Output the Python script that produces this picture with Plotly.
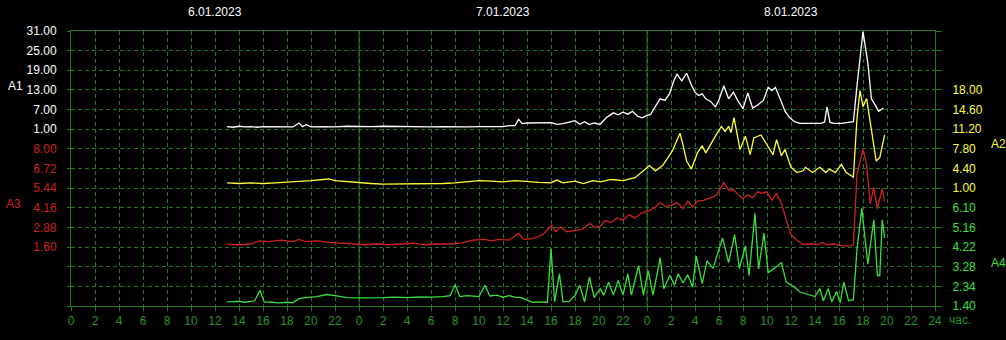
import plotly.graph_objects as go

# ---------------- data (hours from 6.01.2023 00:00) ----------------
a1_h = [13.0, 13.5, 14.0, 14.5, 15.0, 15.5, 16.0, 17.0, 18.0, 18.5, 19.0, 19.3, 19.6, 20.0, 21.0, 22.0,
        23.0, 24.0, 25.0, 26.0, 27.0, 28.0, 29.0, 30.0, 31.0, 32.0, 33.0, 34.0, 35.0, 36.0, 36.5, 37.0,
        37.3, 37.6, 38.0, 39.0, 40.0, 40.5, 41.0, 42.0, 42.4, 42.8, 43.2, 43.6, 44.1, 44.6, 45.2, 45.6,
        46.0, 46.4, 46.8, 47.2, 47.6, 48.0, 48.3, 48.7, 49.1, 49.5, 49.9, 50.2, 50.5, 50.9, 51.3, 51.7,
        52.0, 52.3, 52.6, 52.9, 53.3, 53.7, 54.0, 54.4, 54.8, 55.2, 55.6, 56.0, 56.4, 56.8, 57.2, 57.7,
        58.1, 58.4, 58.7, 59.2, 59.5, 59.9, 60.3, 60.75, 61.5, 62.0, 62.5, 62.8, 63.0, 63.25, 63.6, 64.2,
        64.8, 65.2, 65.5, 66.0, 66.4, 66.7, 67.0, 67.3, 67.7]
a1_v = [1.8, 1.6, 1.9, 1.7, 1.8, 1.6, 1.8, 1.7, 1.8, 1.7, 2.9, 1.8, 2.4, 1.7, 1.8, 1.7,
        1.9, 1.8, 1.8, 1.9, 1.8, 1.9, 1.7, 1.7, 1.8, 1.7, 1.7, 1.8, 1.9, 1.8, 2.1, 2.1,
        4.0, 2.7, 2.9, 2.9, 3.0, 2.5, 2.7, 3.6, 2.5, 3.3, 2.4, 2.9, 2.5, 4.5, 6.0, 5.4,
        6.2, 5.6, 6.5, 5.0, 4.5, 5.2, 5.5, 8.0, 10.3, 9.8, 12.0, 15.5, 17.8, 15.8, 18.1, 14.5,
        12.3, 11.3, 11.8, 10.3, 9.5, 7.8, 10.0, 14.3, 10.3, 12.3, 9.5, 7.3, 12.1, 7.5, 8.3, 9.8,
        13.8, 12.8, 13.8, 9.3, 6.5, 4.5, 3.3, 2.8, 2.8, 2.9, 2.8, 3.2, 7.8, 3.1, 2.8, 2.8,
        3.0, 3.3, 14.3, 30.8, 21.3, 10.3, 8.5, 6.5, 7.5]

a2_h = [13.0, 14.0, 15.0, 16.0, 17.0, 18.0, 19.0, 20.0, 21.0, 21.5, 22.0, 23.0, 24.0, 25.0, 26.0, 27.0,
        28.0, 29.0, 30.0, 31.0, 32.0, 33.0, 34.0, 35.0, 36.0, 37.0, 38.0, 39.0, 40.0, 40.5, 41.0, 42.0,
        42.7, 43.5, 44.1, 45.0, 46.0, 47.0, 47.7, 48.2, 48.7, 49.3, 50.1, 50.75, 51.0, 51.3, 51.7, 52.2,
        52.6, 52.9, 53.7, 54.2, 54.5, 54.8, 55.0, 55.25, 55.75, 56.2, 56.6, 56.9, 57.5, 58.0, 58.5, 58.8,
        59.2, 59.5, 60.0, 60.5, 61.0, 61.2, 61.8, 62.4, 62.9, 63.2, 63.7, 64.2, 64.6, 65.2, 65.5, 65.75,
        66.0, 66.3, 66.7, 67.1, 67.4, 67.8]
a2_v = [1.9, 1.8, 1.9, 1.8, 1.9, 2.0, 2.2, 2.3, 2.5, 2.6, 2.3, 2.1, 1.9, 1.8, 1.7, 1.7,
        1.8, 1.7, 1.7, 1.8, 1.9, 2.1, 2.3, 2.2, 2.1, 2.3, 2.1, 2.0, 1.9, 2.4, 1.9, 2.2,
        1.8, 2.3, 2.1, 2.5, 2.3, 2.8, 4.0, 4.9, 4.0, 4.9, 7.4, 10.5, 8.5, 5.7, 4.3, 7.1,
        8.3, 7.1, 10.0, 11.7, 10.8, 11.7, 10.6, 13.2, 7.7, 10.0, 6.8, 9.7, 10.2, 8.5, 6.8, 9.4,
        6.6, 7.7, 4.6, 3.7, 4.0, 4.6, 3.7, 4.6, 3.7, 4.3, 3.7, 5.1, 3.7, 2.9, 13.1, 17.9,
        15.1, 16.5, 10.8, 5.7, 6.3, 10.2]

a3_h = [13.0, 14.0, 15.0, 15.7, 16.5, 17.5, 18.5, 19.0, 19.5, 20.5, 21.5, 22.5, 23.5, 24.5, 25.5, 26.5,
        27.5, 28.5, 29.5, 30.5, 31.5, 32.5, 33.5, 34.5, 35.0, 35.7, 36.5, 37.3, 37.7, 38.5, 39.3, 40.05,
        40.4, 40.8, 41.3, 42.0, 42.6, 43.25, 43.6, 44.1, 44.5, 45.0, 45.5, 46.0, 46.5, 47.0, 47.5, 48.25,
        48.7, 49.1, 49.5, 50.0, 50.5, 51.0, 51.4, 51.8, 52.2, 52.7, 53.3, 53.8, 54.4, 54.8, 55.2, 55.6,
        56.0, 56.4, 56.8, 57.2, 57.6, 58.0, 58.4, 58.8, 59.2, 59.6, 60.0, 60.5, 61.0, 61.6, 62.2, 62.6,
        63.0, 63.6, 64.2, 64.8, 65.2, 65.5, 66.0, 66.3, 66.6, 66.9, 67.2, 67.6, 67.8]
a3_v = [1.77, 1.75, 1.8, 2.0, 1.95, 2.05, 1.95, 2.1, 1.95, 2.0, 1.9, 1.85, 1.8, 1.75, 1.8, 1.75,
        1.8, 1.85, 1.75, 1.8, 1.8, 1.85, 2.05, 2.1, 2.0, 2.1, 2.05, 2.5, 2.1, 2.15, 2.4, 3.0,
        2.6, 2.9, 2.6, 2.7, 2.75, 3.15, 2.9, 2.94, 3.33, 3.2, 3.5, 3.35, 3.7, 3.5, 3.8, 4.0,
        4.2, 4.5, 4.25, 4.3, 4.5, 4.1, 4.6, 4.2, 4.6, 4.65, 4.8, 5.0, 5.8, 5.3, 5.35, 5.0,
        4.75, 5.0, 4.8, 5.2, 5.1, 5.2, 4.65, 5.1, 4.43, 3.4, 2.41, 2.05, 1.77, 1.8, 1.75, 1.9,
        1.75, 1.8, 1.7, 1.66, 1.75, 6.36, 7.96, 7.0, 4.43, 5.5, 4.1, 5.4, 4.54]

a4_h = [13.0, 14.0, 14.5, 15.3, 15.75, 16.1, 16.7, 17.3, 18.0, 18.5, 19.0, 19.5, 20.5, 21.3, 22.0, 23.0,
        24.0, 25.0, 26.0, 27.0, 28.0, 29.0, 30.0, 31.0, 31.6, 32.0, 32.4, 33.0, 34.0, 34.5, 34.9, 35.5,
        36.0, 36.5, 37.0, 37.5, 38.0, 38.5, 39.0, 39.7, 40.0, 40.3, 40.7, 41.0, 41.5, 42.0, 42.4, 42.8,
        43.2, 43.6, 44.1, 44.4, 44.8, 45.2, 45.6, 46.0, 46.4, 46.7, 47.3, 47.7, 48.1, 48.5, 49.1, 49.4,
        49.9, 50.3, 50.6, 51.0, 51.4, 51.8, 52.1, 52.6, 53.0, 53.5, 54.3, 54.8, 55.3, 55.7, 56.2, 56.5,
        57.0, 57.3, 57.75, 58.1, 58.6, 59.2, 59.6, 60.3, 60.75, 61.5, 62.0, 62.4, 62.7, 63.1, 63.4, 63.8,
        64.1, 64.4, 64.8, 65.2, 65.5, 65.9, 66.4, 66.9, 67.2, 67.4, 67.6, 67.8]
a4_v = [1.6, 1.62, 1.58, 1.65, 2.15, 1.6, 1.58, 1.55, 1.58, 1.55, 1.75, 1.8, 1.85, 1.95, 1.9, 1.8,
        1.79, 1.78, 1.8, 1.82, 1.8, 1.83, 1.82, 1.85, 1.9, 2.42, 1.85, 1.9, 1.85, 2.39, 1.88, 1.92,
        1.82, 1.9, 1.82, 1.8, 1.7, 1.58, 1.6, 1.58, 4.14, 1.6, 2.94, 1.6, 1.62, 1.9, 2.39, 1.6,
        2.78, 1.8, 2.23, 1.92, 2.54, 1.92, 2.62, 1.92, 2.94, 1.92, 3.33, 1.92, 3.09, 1.92, 3.72, 2.23,
        2.86, 2.4, 2.94, 2.5, 2.9, 2.3, 3.8, 2.47, 3.56, 3.2, 4.66, 3.48, 4.82, 3.2, 4.27, 2.86,
        5.83, 3.17, 4.89, 3.0, 3.2, 3.48, 2.54, 2.3, 2.07, 1.92, 1.85, 2.23, 1.65, 2.23, 1.6, 2.1,
        1.55, 2.54, 1.65, 1.7, 4.11, 6.07, 3.41, 5.52, 2.86, 2.86, 5.52, 4.66]

# axis tick labels
a1_ticks = [31.00, 25.00, 19.00, 13.00, 7.00, 1.00]
a2_ticks = [18.00, 14.60, 11.20, 7.80, 4.40, 1.00]
a3_ticks = [8.00, 6.72, 5.44, 4.16, 2.88, 1.60]
a4_ticks = [6.10, 5.16, 4.22, 3.28, 2.34, 1.40]
dates = ["6.01.2023", "7.01.2023", "8.01.2023"]
date_pos = [12, 36, 60]
day_bounds = [24, 48]
hour_ticks = list(range(0, 73, 2))

# ---------------- styling ----------------
GRID = "rgb(38,118,38)"
XLAB = "rgb(40,150,40)"
C1, C2, C3, C4 = "#ffffff", "#ffff3c", "#d02020", "#3ce03c"
FONT = "Liberation Sans, Arial, sans-serif"
ROWS = 14  # horizontal grid intervals


def axis_range(ticks, top_index):
    step = ticks[0] - ticks[1]
    top = ticks[0] + top_index * step
    return step, top, top - ROWS * step


s1, top1, bot1 = axis_range(a1_ticks, 0)
s2, top2, bot2 = axis_range(a2_ticks, 3)
s3, top3, bot3 = axis_range(a3_ticks, 6)
s4, top4, bot4 = axis_range(a4_ticks, 9)

grid_vals = [top1 - k * s1 for k in range(ROWS + 1)]
grid_text = [f"{v:.2f}" if any(abs(v - t) < 1e-6 for t in a1_ticks) else "" for v in grid_vals]
a2_extra = [a2_ticks[0] + k * s2 for k in range(1, 4)]

fig = go.Figure()
fig.add_trace(go.Scatter(x=a1_h, y=a1_v, mode="lines", line=dict(color=C1, width=1.3), yaxis="y"))
fig.add_trace(go.Scatter(x=a2_h, y=a2_v, mode="lines", line=dict(color=C2, width=1.3), yaxis="y2"))
fig.add_trace(go.Scatter(x=a3_h, y=a3_v, mode="lines", line=dict(color=C3, width=1.3), yaxis="y3"))
fig.add_trace(go.Scatter(x=a4_h, y=a4_v, mode="lines", line=dict(color=C4, width=1.3), yaxis="y4"))

common_y = dict(zeroline=False, ticks="outside", tickcolor=GRID, tickwidth=1)

fig.update_layout(
    width=1006, height=340,
    margin=dict(l=71, r=71, t=31, b=29),
    paper_bgcolor="black", plot_bgcolor="black",
    showlegend=False,
    font=dict(family=FONT, size=11),
    xaxis=dict(range=[0, 72], tickvals=hour_ticks,
               ticktext=[str(h % 24) if h < 72 else "24" for h in hour_ticks],
               showgrid=True, gridcolor=GRID, griddash="4px,3px", gridwidth=1,
               showline=True, linecolor=GRID, mirror=True, linewidth=1,
               ticks="outside", ticklen=4, tickcolor=GRID, zeroline=False,
               tickfont=dict(color=XLAB, size=12, family=FONT)),
    yaxis=dict(range=[bot1, top1], tickvals=grid_vals, ticktext=grid_text,
               showgrid=True, gridcolor=GRID, griddash="4px,3px", gridwidth=1,
               showline=True, linecolor=GRID, mirror=True, linewidth=1,
               ticklen=3, tickfont=dict(color=C1, size=12), ticklabelstandoff=8, **common_y),
    yaxis2=dict(range=[bot2, top2], overlaying="y", side="right", anchor="x",
                tickvals=a2_ticks + a2_extra, ticktext=[f"{v:.2f}" for v in a2_ticks] + [""] * 3,
                showgrid=False, ticklen=6, tickfont=dict(color=C2, size=12), ticklabelstandoff=8, **common_y),
    yaxis3=dict(range=[bot3, top3], overlaying="y", side="left", anchor="x",
                tickvals=a3_ticks, ticktext=[f"{v:.2f}" for v in a3_ticks],
                showgrid=False, ticklen=3, tickfont=dict(color=C3, size=12), ticklabelstandoff=8, **common_y),
    yaxis4=dict(range=[bot4, top4], overlaying="y", side="right", anchor="x",
                tickvals=a4_ticks, ticktext=[f"{v:.2f}" for v in a4_ticks],
                showgrid=False, ticklen=6, tickfont=dict(color=C4, size=12), ticklabelstandoff=8, **common_y),
)

# solid day-boundary lines
for d in day_bounds:
    fig.add_shape(type="line", xref="x", yref="paper", x0=d, x1=d, y0=0, y1=1,
                  line=dict(color=GRID, width=1), layer="below")

# date labels on top
for d, p in zip(dates, date_pos):
    fig.add_annotation(text=d, x=p, y=1.068, xref="x", yref="paper", showarrow=False,
                       xanchor="center", yanchor="middle", font=dict(color="white", size=12, family=FONT))

ann = [("A1", -0.064, 0.80, C1), ("A3", -0.067, 0.371, C3),
       ("A2", 1.073, 0.589, C2), ("A4", 1.073, 0.157, C4)]
for txt, x, y, c in ann:
    fig.add_annotation(text=txt, x=x, y=y, xref="paper", yref="paper", showarrow=False,
                       font=dict(color=c, size=12, family=FONT), xanchor="center", yanchor="middle")
fig.add_annotation(text="час.", x=1.0139, y=-0.05, xref="paper", yref="paper", showarrow=False,
                   xanchor="left", yanchor="middle", font=dict(color=XLAB, size=12, family=FONT))

fig.write_html("out.html")
